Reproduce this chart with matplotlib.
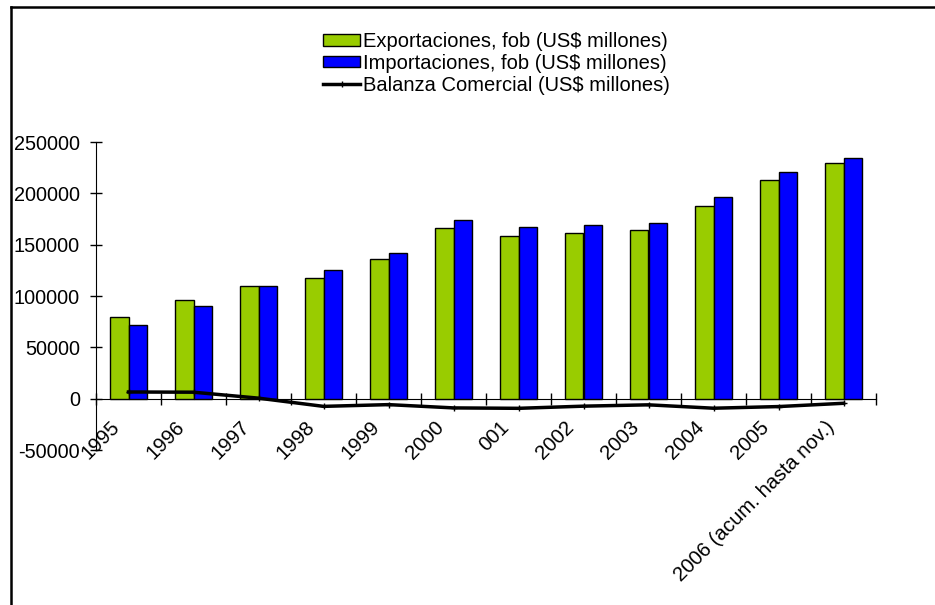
import numpy as np
import matplotlib.pyplot as plt
from matplotlib.lines import Line2D
from matplotlib.transforms import ScaledTranslation

plt.rcParams['font.family'] = ['Liberation Sans', 'DejaVu Sans']
plt.rcParams['axes.unicode_minus'] = False

years = ['1995', '1996', '1997', '1998', '1999', '2000', '001', '2002',
         '2003', '2004', '2005', '2006 (acum. hasta nov.)']
exportaciones = [79400, 95900, 110000, 117300, 135800, 166300, 158900,
                 161500, 164700, 187400, 213400, 229900]
importaciones = [71600, 90100, 110000, 125100, 141700, 174100, 167600,
                 169200, 170800, 196800, 220800, 234500]
balanza = [6500, 6300, 500, -7500, -5800, -9000, -9400, -7300, -6000,
           -9300, -7700, -4500]

verde = '#99cc00'
azul = '#0000ff'

fig = plt.figure(figsize=(9.35, 6.05), dpi=100)
ax = fig.add_axes([96/935, 155/605, 780/935, 308/605])

x = np.arange(len(years))
w = 0.285
b1 = ax.bar(x - w/2, exportaciones, w, color=verde, edgecolor='black', linewidth=1,
            label='Exportaciones, fob (US$ millones)', zorder=2)
b2 = ax.bar(x + w/2, importaciones, w, color=azul, edgecolor='black', linewidth=1,
            label='Importaciones, fob (US$ millones)', zorder=2)
l1, = ax.plot(x, balanza, color='black', lw=2.5, marker='+', ms=4, mew=1,
              label='Balanza Comercial (US$ millones)', zorder=3)

ax.set_xlim(-0.5, len(years) - 0.5)
ax.set_ylim(-50000, 250000)
ax.set_yticks(np.arange(-50000, 250001, 50000))

# axis layout: x axis sits on zero, y axis on the left
for s in ['top', 'right']:
    ax.spines[s].set_visible(False)
ax.spines['bottom'].set_position(('data', 0))
ax.spines['bottom'].set_zorder(1)

ax.set_xticks(np.arange(-0.5, len(years)), [])
ax.set_xticks(x, years, minor=True)
ax.tick_params(axis='x', which='major', direction='inout', length=8.6, width=1)
ax.tick_params(axis='x', which='minor', length=0, pad=13.5, labelsize=14.7)
ax.tick_params(axis='y', direction='inout', length=8.6, width=1, pad=7.2,
               labelsize=14.3)

shift = ScaledTranslation(-0.055, 0, fig.dpi_scale_trans)
for lab in ax.get_xticklabels(minor=True):
    lab.set_rotation(45)
    lab.set_ha('right')
    lab.set_transform(lab.get_transform() + shift)

fig.legend(handles=[b1, b2, l1], loc='upper left',
           bbox_to_anchor=(323/935, 1 - 32/605),
           frameon=False, fontsize=14.5, handlelength=1.85, handleheight=0.5,
           handletextpad=0.12, labelspacing=0.14, borderpad=0, borderaxespad=0)

# chart frame
fig.add_artist(Line2D([11/935, 1], [1 - 7/605, 1 - 7/605], color='black', lw=1.8))
fig.add_artist(Line2D([11/935, 11/935], [0, 1 - 7/605], color='black', lw=1.8))

fig.savefig('out.png', dpi=100)
